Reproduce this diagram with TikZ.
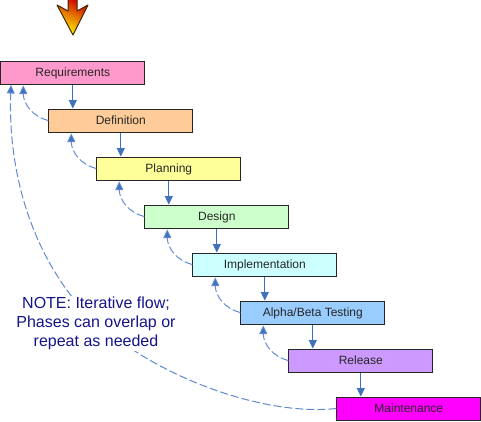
\documentclass[tikz,border=0pt]{standalone}
\usepackage{fontspec}
\setmainfont{Liberation Sans}
\usetikzlibrary{arrows.meta}
\definecolor{flowblue}{HTML}{3F6FBF}
\definecolor{dashblue}{HTML}{5F8AD0}
\definecolor{notenavy}{HTML}{14148C}
\tikzset{
  x=1pt,y=-1pt,
  phase/.style={draw=black!85,line width=1pt,minimum width=144pt,minimum height=23pt,inner sep=0pt,
    text height=9pt,text depth=1.5pt,
    font=\fontsize{12pt}{14pt}\selectfont,text=black!85},
  forward/.style={draw=flowblue,line width=1pt,-{Triangle[length=8.5pt,width=8pt,fill=flowblue]}},
  backflow/.style={draw=dashblue,line width=1pt,dash pattern=on 8pt off 3pt,
    -{Triangle[length=8.5pt,width=8pt,fill=flowblue]}},
}
\begin{document}
\begin{tikzpicture}
\useasboundingbox (0,0) rectangle (481,421);
\shade[draw=black!60!orange!70!black,line width=1pt,line join=round,shading=axis,
  bottom color=yellow!95!orange,top color=red!80!black,shading angle=-25]
  (68,-2) -- (68,11) -- (57,5) -- (73,35) -- (88,5) -- (77,11) -- (77,-2) -- cycle;
\node[phase,fill={rgb,255:red,255;green,153;blue,204}] (req) at (72.8,72.5) {Requirements};
\node[phase,fill={rgb,255:red,255;green,204;blue,153}] (def) at (120.8,120.5) {Definition};
\node[phase,fill={rgb,255:red,255;green,255;blue,153}] (plan) at (168.8,168.5) {Planning};
\node[phase,fill={rgb,255:red,204;green,255;blue,204}] (des) at (216.8,216.5) {Design};
\node[phase,fill={rgb,255:red,204;green,255;blue,255}] (imp) at (264.8,264.5) {Implementation};
\node[phase,fill={rgb,255:red,153;green,204;blue,255}] (alpha) at (312.8,312.5) {Alpha/Beta Testing};
\node[phase,fill={rgb,255:red,204;green,153;blue,255}] (rel) at (360.8,360.5) {Release};
\node[phase,fill={rgb,255:red,255;green,0;blue,255}] (main) at (408.8,408.5) {Maintenance};
\foreach \a/\b in {req/def,def/plan,plan/des,des/imp,imp/alpha,alpha/rel,rel/main}
  \draw[forward] (\a.south) -- (\a.south |- \b.north);
\foreach \b in {def,plan,des,imp,alpha,rel}{
  \draw[backflow] (\b.west) .. controls ([shift={(-16,-4)}]\b.west) and ([shift={(-25,-17)}]\b.west) .. ([shift={(-25,-35)}]\b.west);
}
\coordinate (bigtarget) at (11,85);
\draw[backflow] (main.west) .. controls (250,418) and (110,360) .. (60,280) .. controls (30,235) and (8,170) .. (bigtarget);
\node[fill=white,inner sep=1pt,align=center,text=notenavy,font=\fontsize{16pt}{19.2pt}\selectfont] (note) at (96,323.5)
  {NOTE: Iterative flow;\\Phases can overlap or\\repeat as needed};
\end{tikzpicture}
\end{document}
